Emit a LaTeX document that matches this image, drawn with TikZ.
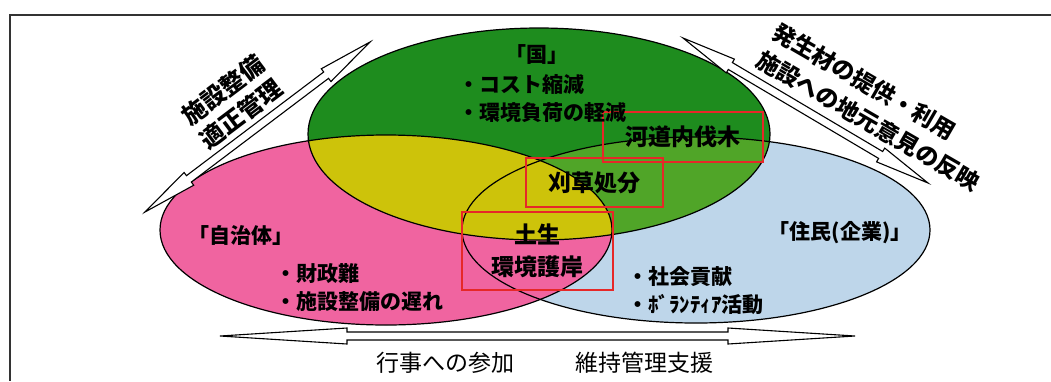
\documentclass[tikz,border=0pt]{standalone}
\usepackage{fontspec}
\setmainfont{Noto Sans CJK JP}
\usepackage{tikz}
\usetikzlibrary{positioning, calc}

\definecolor{kunigreen}{RGB}{30,140,30}
\definecolor{mixgreen}{RGB}{80,165,40}
\definecolor{mixyellow}{RGB}{205,195,10}
\definecolor{jichipink}{RGB}{240,100,160}
\definecolor{juminblue}{RGB}{190,214,234}
\definecolor{boxred}{RGB}{230,40,40}

\tikzset{
  venn/.style={draw=black, line width=1.2pt},
  txt/.style={inner sep=0pt, font=\bfseries\fontsize{21}{28}\selectfont},
  redbox/.style={draw=boxred, line width=1.2pt, inner sep=0pt, align=center, font=\bfseries\fontsize{23}{32}\selectfont},
  slant/.style={inner sep=0pt, font=\bfseries\fontsize{24}{30}\selectfont},
  flow/.style={inner sep=0pt, font=\fontsize{23}{28}\selectfont},
  hollow/.style={draw=black, line width=1.1pt, fill=white, line join=miter},
}

\def\kuniE{(539,134) ellipse [x radius=231, y radius=106]}
\def\jichiE{(386,230) ellipse [x radius=226, y radius=95]}
\def\juminE{(696,230) ellipse [x radius=234, y radius=93]}

% hollow double arrow between two named coordinates, #3 = head length
\newcommand{\dblarrow}[3]{%
  \draw[hollow] let \p1=($(#2)-(#1)$), \n1={atan2(\y1,\x1)}, \n2={veclen(\x1,\y1)} in
    [shift={(#1)}, rotate=\n1]
    (0,0) -- (#3,8) -- (#3,4) -- (\n2-#3,4) -- (\n2-#3,8) -- (\n2,0)
    -- (\n2-#3,-8) -- (\n2-#3,-4) -- (#3,-4) -- (#3,-8) -- cycle;}

\begin{document}
\begin{tikzpicture}[x=1pt, y=-1pt]
  \useasboundingbox (0,0) rectangle (1051,381);
  % frame
  \draw[line width=1.6pt, black!80] (1051,15) -- (10,15) -- (10,381);

  % the three circles
  \fill[juminblue] \juminE;
  \fill[jichipink] \jichiE;
  \fill[kunigreen] \kuniE;
  \begin{scope}
    \clip \kuniE;
    \fill[mixgreen] \juminE;
    \fill[mixyellow] \jichiE;
  \end{scope}
  \draw[venn] \juminE;
  \draw[venn] \jichiE;
  \draw[venn] \kuniE;

  % red boxes
  \node[redbox, minimum width=160pt, minimum height=50pt] (bassai) at (683,137) {河道内伐木};
  \node[redbox, minimum width=137pt, minimum height=49pt] (kari) at (594.5,182.5) {刈草処分};
  \node[redbox, minimum width=151pt, minimum height=78pt] (gogan) at (537.5,251) {土生\\環境護岸};

  % texts
  \node[txt] (kuni) at (537,55) {「国」};
  \node[txt, align=left, anchor=west] (kunilist) at (458,99) {・コスト縮減\\・環境負荷の軽減};
  \node[txt] (jichi) at (241,235) {「自治体」};
  \node[txt, align=left, anchor=west] (jichilist) at (275,288) {・財政難\\・施設整備の遅れ};
  \node[txt] (jumin) at (840,233) {「住民(企業)」};
  \node[txt, align=left, anchor=west] (juminlist) at (627,291) {・社会貢献\\・ﾎﾞﾗﾝﾃｨｱ活動};

  % arrows
  \coordinate (seibi1) at (145,212);
  \coordinate (seibi2) at (370,42);
  \coordinate (teikyo1) at (683,38);
  \coordinate (teikyo2) at (928,183);
  \coordinate (sanka1) at (220,336);
  \coordinate (sanka2) at (855,336);
  \dblarrow{seibi1}{seibi2}{55}
  \dblarrow{teikyo1}{teikyo2}{55}
  \dblarrow{sanka1}{sanka2}{127}

  \node[slant, rotate=37, align=center] (seibi) at (232,102) {施設整備\\適正管理};
  \node[slant, rotate=-30, align=left, font=\bfseries\fontsize{23}{32}\selectfont] (teikyo) at (876,107) {発生材の提供・利用\\施設への地元意見の反映};
  \node[flow] (sanka) at (445,363) {行事への参加};
  \node[flow] (shien) at (644,363) {維持管理支援};
\end{tikzpicture}
\end{document}
